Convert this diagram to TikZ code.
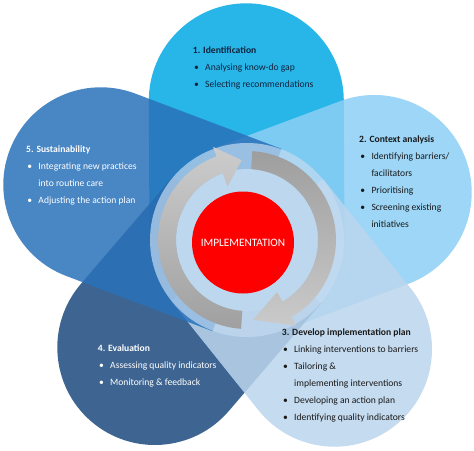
\documentclass[tikz,border=0pt]{standalone}
\usepackage{fontspec}
\setmainfont{Carlito}
\usetikzlibrary{calc}
\definecolor{pA}{RGB}{3,169,229}
\definecolor{pB}{RGB}{140,207,246}
\definecolor{pC}{RGB}{187,213,237}
\definecolor{pD}{RGB}{29,75,126}
\definecolor{pE}{RGB}{42,113,186}
\definecolor{disk}{RGB}{196,220,241}
\definecolor{diskin}{RGB}{189,215,238}
\definecolor{gLa}{RGB}{204,204,204}
\definecolor{gLb}{RGB}{160,160,160}
\definecolor{gRa}{RGB}{158,158,158}
\definecolor{gRb}{RGB}{202,202,202}
\definecolor{implred}{RGB}{255,0,0}
\definecolor{tA}{RGB}{15,35,60}
\definecolor{tB}{RGB}{25,25,25}
\def\pr{97.5}
\newcommand\bul{\makebox[12.3pt][l]{\hspace{1.2pt}\textbullet}}
\newcommand\ind{\hspace*{12.3pt}}
\newcommand\drawpetal[3]{%
  \fill[petal, fill=#3] ($(#1)+(#2-90:\pr)$) arc[start angle=#2-90, end angle=#2+90, radius=\pr]
    -- ($(cc)+(#2+90:\pr)$) -- ($(cc)+(#2-90:\pr)$) -- cycle;}
\tikzset{
  petal/.style={fill opacity=0.85},
  blk/.style={anchor=base west, inner sep=0pt, font=\fontsize{9.6}{17}\selectfont},
}
\begin{document}
\begin{tikzpicture}[x=1pt,y=-1pt]
\useasboundingbox (0,0) rectangle (474,450);
\fill[white] (0,0) rectangle (474,450);
\coordinate (cc) at (247,240);
\coordinate (o1) at (246.3,100.8);
\coordinate (o2) at (374.2,192.5);
\coordinate (o3) at (334.5,349.2);
\coordinate (o4) at (154.8,347.5);
\coordinate (o5) at (100.8,184.8);
% petals
\drawpetal{o1}{269.7}{pA}
\drawpetal{o2}{-20.5}{pB}
\drawpetal{o4}{130.6}{pD}
\drawpetal{o3}{51.3}{pC}
\drawpetal{o5}{200.7}{pE}
% central disk
\fill[disk, fill opacity=0.7] (cc) circle[radius=97];
\fill[diskin] (cc) circle[radius=71];
% circular arrows
\begin{scope}[shift={(cc)}]
\shade[top color=gLa, bottom color=gLb]
  (93.8:89) arc[start angle=93.8, end angle=250, radius=89]
  -- (250:99) -- (266.2:80) -- (250:57) -- (250:71)
  arc[start angle=250, end angle=93.8, radius=71] -- cycle;
\shade[top color=gRa, bottom color=gRb]
  (273.4:89) arc[start angle=273.4, end angle=420, radius=89]
  -- (420:99) -- (445.5:80) -- (420:60) -- (420:71)
  arc[start angle=420, end angle=273.4, radius=71] -- cycle;
\end{scope}
% centre
\node[circle, fill=implred, minimum size=102pt, inner sep=0pt, text=white,
  font=\fontsize{11.3}{13}\selectfont] (impl) at (243,242.5) {IMPLEMENTATION};
% text blocks
\node[blk, text=tA] (b1) at (192.7,53.2) {\begin{tabular}[t]{@{}l@{}}
\textbf{1. Identification}\\
\bul Analysing know-do gap\\
\bul Selecting recommendations
\end{tabular}};
\node[blk, text=tB] (b2) at (359,142.5) {\begin{tabular}[t]{@{}l@{}}
\textbf{2. Context analysis}\\
\bul Identifying barriers/\\
\ind facilitators\\
\bul Prioritising\\
\bul Screening existing\\
\ind initiatives
\end{tabular}};
\node[blk, text=tB] (b3) at (281.7,335.2) {\begin{tabular}[t]{@{}l@{}}
\textbf{3. Develop implementation plan}\\
\bul Linking interventions to barriers\\
\bul Tailoring \&\\
\ind implementing interventions\\
\bul Developing an action plan\\
\bul Identifying quality indicators
\end{tabular}};
\node[blk, text=white] (b4) at (97.7,351.9) {\begin{tabular}[t]{@{}l@{}}
\textbf{4. Evaluation}\\
\bul Assessing quality indicators\\
\bul Monitoring \& feedback
\end{tabular}};
\node[blk, text=white] (b5) at (26,152.5) {\begin{tabular}[t]{@{}l@{}}
\textbf{5. Sustainability}\\
\bul Integrating new practices\\
\ind into routine care\\
\bul Adjusting the action plan
\end{tabular}};
\end{tikzpicture}
\end{document}
